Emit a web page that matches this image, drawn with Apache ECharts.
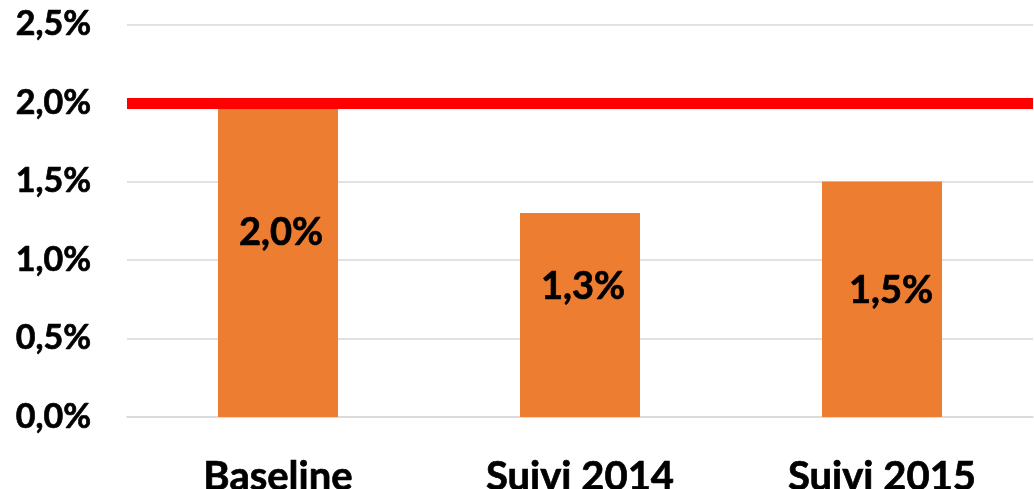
<!DOCTYPE html>
<html>
<head>
<meta charset="utf-8">
<script src="https://cdn.jsdelivr.net/npm/echarts@6/dist/echarts.min.js"></script>
<style>
  html, body { margin: 0; padding: 0; background: #fff; }
  #chart { width: 1034px; height: 489px; }
</style>
</head>
<body>
<div id="chart"></div>
<script>
var categories = ['Baseline', 'Suivi 2014', 'Suivi 2015'];
var values = [2.0, 1.3, 1.5];
var targetValue = 2.0;
var yTicks = [0, 0.5, 1.0, 1.5, 2.0, 2.5];

// decalage des etiquettes dans les barres (comme dans l'original)
var labelOffsets = [[3, -27], [3, -28], [9, -9]];

function pct(v) {
  return v.toFixed(1).replace('.', ',') + '%';
}

var font = 'Lato, "Open Sans", sans-serif';
// un peu plus gras que Lato Bold
var heavy = { textBorderColor: '#000', textBorderWidth: 0.7 };

var option = {
  animation: false,
  grid: {
    left: 127,
    right: 1,
    top: 24.5,
    bottom: 72,
    outerBoundsMode: 'none'
  },
  xAxis: {
    type: 'category',
    data: categories,
    axisTick: { show: false },
    axisLine: { lineStyle: { color: '#d9d9d9', width: 1.5 } },
    axisLabel: Object.assign({
      color: '#000',
      fontWeight: 'bold',
      fontSize: 40,
      fontFamily: font,
      margin: 40
    }, heavy)
  },
  yAxis: {
    type: 'value',
    min: yTicks[0],
    max: yTicks[yTicks.length - 1],
    interval: 0.5,
    axisLine: { show: false },
    axisTick: { show: false },
    splitLine: { lineStyle: { color: '#d9d9d9', width: 1.5 } },
    axisLabel: Object.assign({
      color: '#000',
      fontWeight: 'bold',
      fontSize: 34,
      fontFamily: font,
      margin: 36,
      formatter: function (v) { return pct(v); }
    }, heavy)
  },
  series: [{
    type: 'bar',
    barWidth: 120,
    itemStyle: { color: '#ed7d31' },
    data: values.map(function (v, i) {
      return {
        value: v,
        label: { offset: labelOffsets[i] }
      };
    }),
    label: Object.assign({
      show: true,
      position: 'inside',
      color: '#000',
      fontWeight: 'bold',
      fontSize: 38,
      fontFamily: font,
      formatter: function (p) { return pct(p.value); }
    }, heavy),
    markLine: {
      silent: true,
      symbol: ['none', 'none'],
      label: { show: false },
      lineStyle: { color: '#ff0000', width: 11, type: 'solid' },
      data: [{ yAxis: targetValue }]
    }
  }]
};

echarts.init(document.getElementById('chart')).setOption(option);
</script>
</body>
</html>
